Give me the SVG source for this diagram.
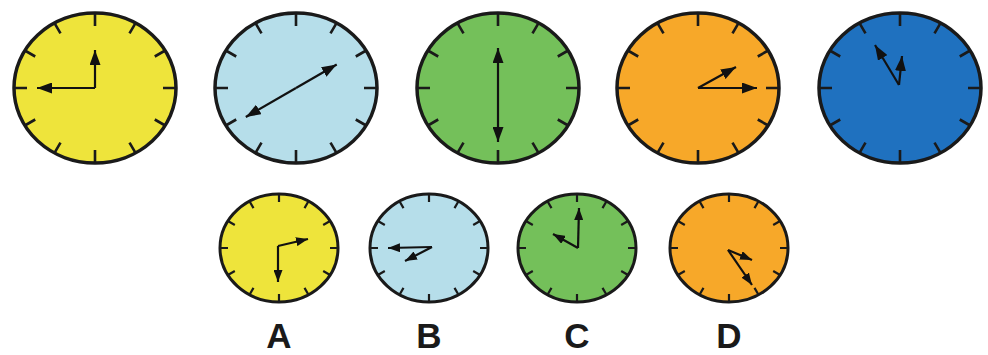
<svg xmlns="http://www.w3.org/2000/svg" width="988" height="355" viewBox="0 0 988 355">
<style>
.rim{stroke:#1a1a1a;stroke-width:3.5}
.rims{stroke:#1a1a1a;stroke-width:3}
.tick{fill:none;stroke:#1a1a1a;stroke-width:2.6}
.ticks{fill:none;stroke:#1a1a1a;stroke-width:2.2}
.hand{stroke:#111;stroke-width:2.2;fill:none;marker-end:url(#ah)}
.hands{stroke:#111;stroke-width:2.2;fill:none;marker-end:url(#ahs)}
.lbl{font-family:"Liberation Sans",Arial,sans-serif;font-weight:bold;font-size:35px;fill:#1a1a1a;text-anchor:middle}
</style>
<defs>
<marker id="ah" markerUnits="userSpaceOnUse" markerWidth="15" markerHeight="11" refX="15" refY="5.5" orient="auto"><path d="M0,0 L15,5.5 L0,11 z" fill="#111"/></marker>
<marker id="ahs" markerUnits="userSpaceOnUse" markerWidth="12" markerHeight="9" refX="12" refY="4.5" orient="auto"><path d="M0,0 L12,4.5 L0,9 z" fill="#111"/></marker>
<path id="tb" class="tick" d="M0,-75L0,-62M40.5,-64.95L34.5,-54.56M70.15,-37.5L59.76,-31.5M81,0L68,0M70.15,37.5L59.76,31.5M40.5,64.95L34.5,54.56M0,75L0,62M-40.5,64.95L-34.5,54.56M-70.15,37.5L-59.76,31.5M-81,0L-68,0M-70.15,-37.5L-59.76,-31.5M-40.5,-64.95L-34.5,-54.56"/>
<path id="ts" class="ticks" d="M0,-54L0,-46M29.5,-46.77L25.5,-39.84M51.1,-27L44.17,-23M59,0L51,0M51.1,27L44.17,23M29.5,46.77L25.5,39.84M0,54L0,46M-29.5,46.77L-25.5,39.84M-51.1,27L-44.17,23M-59,0L-51,0M-51.1,-27L-44.17,-23M-29.5,-46.77L-25.5,-39.84"/>
</defs>
<rect width="988" height="355" fill="#ffffff"/>

<g id="clock1" transform="translate(95,88)">
<ellipse rx="81" ry="75" fill="#EEE43B" class="rim"/>
<use href="#tb"/>
<path class="hand" d="M0,0L0,-38"/>
<path class="hand" d="M0,0L-58,0"/>
</g>

<g id="clock2" transform="translate(296,88)">
<ellipse rx="81" ry="75" fill="#B6DEEA" class="rim"/>
<use href="#tb"/>
<path class="hand" d="M0,0L40.7,-23.5"/>
<path class="hand" d="M0,0L-50.2,29"/>
</g>

<g id="clock3" transform="translate(498,88)">
<ellipse rx="81" ry="75" fill="#74C05A" class="rim"/>
<use href="#tb"/>
<path class="hand" d="M0,0L0,-40"/>
<path class="hand" d="M0,0L0,54"/>
</g>

<g id="clock4" transform="translate(698,88)">
<ellipse rx="81" ry="75" fill="#F7A829" class="rim"/>
<use href="#tb"/>
<path class="hand" d="M0,0L59,0"/>
<path class="hand" d="M0,0L38,-21"/>
</g>

<g id="clock5" transform="translate(900,88)">
<ellipse rx="81" ry="75" fill="#1F71BF" class="rim"/>
<use href="#tb" style="stroke:#173f6b"/>
<path class="hand" d="M-1,-3L-25,-43"/>
<path class="hand" d="M-1,-3L2,-32"/>
</g>

<g id="optionA" transform="translate(279,248)">
<ellipse rx="59" ry="54" fill="#EEE43B" class="rims"/>
<use href="#ts"/>
<path class="hands" d="M-1,-2L-1,34"/>
<path class="hands" d="M-1,-2L29,-9"/>
<text class="lbl" x="0" y="100">A</text>
</g>

<g id="optionB" transform="translate(429,248)">
<ellipse rx="59" ry="54" fill="#B6DEEA" class="rims"/>
<use href="#ts"/>
<path class="hands" d="M3,-1L-41,0"/>
<path class="hands" d="M3,-1L-24,13"/>
<text class="lbl" x="0" y="100">B</text>
</g>

<g id="optionC" transform="translate(577,248)">
<ellipse rx="59" ry="54" fill="#74C05A" class="rims"/>
<use href="#ts"/>
<path class="hands" d="M1,0L2,-40"/>
<path class="hands" d="M1,0L-24,-14"/>
<text class="lbl" x="0" y="100">C</text>
</g>

<g id="optionD" transform="translate(729,248)">
<ellipse rx="59" ry="54" fill="#F7A829" class="rims"/>
<use href="#ts"/>
<path class="hands" d="M-1,2L23,12"/>
<path class="hands" d="M-1,2L23,37"/>
<text class="lbl" x="0" y="100">D</text>
</g>

<g id="connectors"></g>
</svg>
